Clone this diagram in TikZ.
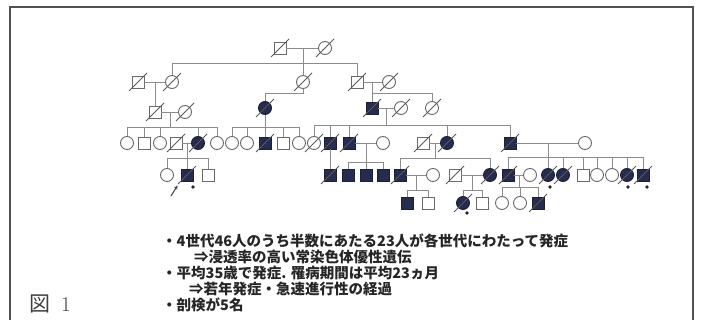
\documentclass[tikz,border=0pt]{standalone}
\usepackage{fontspec}
\newfontfamily\jp{Noto Sans CJK JP}
\usetikzlibrary{arrows.meta}
\definecolor{linec}{RGB}{140,140,140}
\definecolor{shapec}{RGB}{105,105,110}
\definecolor{navy}{RGB}{38,44,78}
\definecolor{framec}{RGB}{80,80,85}
\begin{document}
\begin{tikzpicture}[x=1pt,y=-1pt,
  ln/.style={draw=linec, line width=0.8pt},
  ma/.style={rectangle, draw=shapec, line width=0.9pt, minimum size=12pt, inner sep=0pt, fill=white},
  fe/.style={circle, draw=shapec, line width=0.9pt, minimum size=13pt, inner sep=0pt, fill=white},
  aff/.style={fill=navy, draw=navy!70!black},
  sl/.style={draw=black!65, line width=0.9pt},
  dt/.style={circle, fill=black!85, inner sep=0pt, minimum size=3.8pt},
  txt/.style={anchor=west, inner sep=0pt, font=\jp\bfseries\fontsize{14.5}{16}\selectfont, text=black!85}]
\useasboundingbox (0,0) rectangle (701,320);
\fill[white] (0,0) rectangle (701,320);
\draw[draw=framec, line width=1.3pt] (10,335) -- (10,7) -- (693,7) -- (693,335);

% generation I
\node[ma] (a1) at (280,48) {};
\node[fe] (a2) at (325,48) {};
% generation II
\node[ma] (b1) at (138,82) {};
\node[fe] (b2) at (172,82) {};
\node[fe] (b3) at (303,82) {};
\node[ma] (b4) at (357,82) {};
\node[fe] (b5) at (389,82) {};
% intermediate
\node[ma] (c1) at (155,112) {};
\node[fe] (c2) at (185,112) {};
\node[fe,aff] (c3) at (265,108) {};
\node[ma,aff] (c4) at (372,108) {};
\node[fe] (c5) at (401,108) {};
\node[fe] (c6) at (432,108) {};
% generation III
\node[fe] (d1) at (127,143) {};
\node[ma] (d2) at (144,143) {};
\node[fe] (d3) at (160,143) {};
\node[ma] (d4) at (176,143) {};
\node[fe,aff] (d5) at (198,143) {};
\node[fe] (d6) at (217,143) {};
\node[fe] (d7) at (232,143) {};
\node[fe] (d8) at (247,143) {};
\node[ma,aff] (d9) at (265,143) {};
\node[ma] (d10) at (283,143) {};
\node[fe] (d11) at (299,143) {};
\node[fe] (d12) at (314,143) {};
\node[ma,aff] (d13) at (330,143) {};
\node[ma,aff] (d14) at (349,143) {};
\node[fe] (d15) at (383,143) {};
\node[ma] (d16) at (423,143) {};
\node[fe,aff] (d17) at (447,143) {};
\node[ma,aff] (d18) at (510,143) {};
\node[fe] (d19) at (585,143) {};
% generation IV
\node[fe] (e1) at (167,175) {};
\node[ma,aff] (e2) at (187,175) {};
\node[ma] (e3) at (208,175) {};
\node[ma,aff] (e4) at (330,175) {};
\node[ma,aff] (e5) at (348,175) {};
\node[ma,aff] (e6) at (366,175) {};
\node[ma,aff] (e7) at (383,175) {};
\node[ma,aff] (e8) at (400,175) {};
\node[fe] (e9) at (433,175) {};
\node[ma] (e10) at (455,175) {};
\node[fe,aff] (e11) at (490,175) {};
\node[ma,aff] (e12) at (508,175) {};
\node[fe] (e13) at (530,175) {};
\node[fe,aff] (e14) at (548,175) {};
\node[fe,aff] (e15) at (563,175) {};
\node[ma] (e16) at (583,175) {};
\node[fe] (e17) at (597,175) {};
\node[fe] (e18) at (612,175) {};
\node[fe,aff] (e19) at (627,175) {};
\node[ma,aff] (e20) at (643,175) {};
% generation V
\node[ma,aff] (f1) at (407,203) {};
\node[ma] (f2) at (428,203) {};
\node[fe,aff] (f3) at (463,203) {};
\node[ma] (f4) at (482,203) {};
\node[fe] (f5) at (502,203) {};
\node[fe] (f6) at (520,203) {};
\node[ma,aff] (f7) at (538,203) {};

% connectors
\draw[ln] (a1.east) -- (a2.west);
\draw[ln] (303,48) -- (b3.north);
\draw[ln] (b2.north) -- (b2.north |- 0,63) -- (b4.north |- 0,63) -- (b4.north);

\draw[ln] (b1.east) -- (b2.west);
\draw[ln] (155,82) -- (c1.north);
\draw[ln] (b3.south) -- (b3.south |- 0,93) -- (c3.north |- 0,93) -- (c3.north);
\draw[ln] (b4.east) -- (b5.west);
\draw[ln] (372,82) -- (c4.north);
\draw[ln] (372,93) -- (c6.north |- 0,93) -- (c6.north);

\draw[ln] (c1.east) -- (c2.west);
\draw[ln] (170,112) -- (170,127);
\draw[ln] (d1.north) -- (d1.north |- 0,127) -- (d6.north |- 0,127) -- (d6.north);
\foreach \n in {d2,d3,d5} \draw[ln] (\n.north) -- (\n.north |- 0,127);

\draw[ln] (c3.south) -- (d9.north);
\draw[ln] (d7.north) -- (d7.north |- 0,127) -- (d11.north |- 0,127) -- (d11.north);
\foreach \n in {d8,d10} \draw[ln] (\n.north) -- (\n.north |- 0,127);

\draw[ln] (c4.east) -- (c5.west);
\draw[ln] (386,108) -- (386,125);
\draw[ln] (d12.north) -- (d12.north |- 0,125) -- (d18.north |- 0,125) -- (d18.north);
\foreach \n in {d13,d14,d17} \draw[ln] (\n.north) -- (\n.north |- 0,125);

\draw[ln] (d4.east) -- (d5.west);
\draw[ln] (187,143) -- (187,158);
\draw[ln] (e1.north) -- (e1.north |- 0,158) -- (e3.north |- 0,158) -- (e3.north);
\draw[ln] (e2.north) -- (e2.north |- 0,158);

\draw[ln] (d13.south) -- (e4.north);

\draw[ln] (d14.east) -- (d15.west);
\draw[ln] (366,143) -- (e6.north);
\draw[ln] (e5.north) -- (e5.north |- 0,162) -- (e7.north |- 0,162) -- (e7.north);

\draw[ln] (d16.east) -- (d17.west);
\draw[ln] (435,143) -- (435,158);
\draw[ln] (e8.north) -- (e8.north |- 0,158) -- (e11.north |- 0,158) -- (e11.north);

\draw[ln] (d18.east) -- (d19.west);
\draw[ln] (548,143) -- (e14.north);
\draw[ln] (e12.north) -- (e12.north |- 0,157) -- (e20.north |- 0,157) -- (e20.north);
\foreach \n in {e15,e16,e17,e18,e19} \draw[ln] (\n.north) -- (\n.north |- 0,157);

\draw[ln] (e8.east) -- (e9.west);
\draw[ln] (416,175) -- (416,190);
\draw[ln] (f1.north) -- (f1.north |- 0,190) -- (f2.north |- 0,190) -- (f2.north);

\draw[ln] (e10.east) -- (e11.west);
\draw[ln] (472,175) -- (472,190);
\draw[ln] (f3.north) -- (f3.north |- 0,190) -- (f4.north |- 0,190) -- (f4.north);

\draw[ln] (e12.east) -- (e13.west);
\draw[ln] (519,175) -- (519,187);
\draw[ln] (f5.north) -- (f5.north |- 0,187) -- (f7.north |- 0,187) -- (f7.north);
\draw[ln] (f6.north) -- (f6.north |- 0,187);

% deceased slashes
\foreach \n in {a1,a2,b1,b2,b3,b4,b5,c1,c2,c3,c4,c5,c6,d4,d5,d9,d12,d13,d14,d16,d17,d18,e2,e4,e8,e10,e11,e12,e14,e15,e19,e20,f3,f7}
  \draw[sl] ([shift={(-9,9)}]\n.center) -- ([shift={(9,-9)}]\n.center);

% markers
\node[dt] (m1) at (193,187) {};
\node[dt] (m2) at (550,187) {};
\node[dt] (m3) at (628,187) {};
\node[dt] (m4) at (647,187) {};
\node[dt] (m5) at (467,213) {};
\coordinate (pa) at (171,196);
\draw[black!75, line width=1pt, -{Stealth[length=4pt,width=3.5pt]}] (pa) -- ([shift={(-3,4)}]e2.south west);

% text
\node[txt] (t1) at (162,241) {・4世代46人のうち半数にあたる23人が各世代にわたって発症};
\node[txt] (t2) at (194,257) {⇒浸透率の高い常染色体優性遺伝};
\node[txt] (t3) at (162,273) {・平均35歳で発症. 罹病期間は平均23ヵ月};
\node[txt] (t4) at (189,289) {⇒若年発症・急速進行性の経過};
\node[txt] (t5) at (162,305) {・剖検が5名};

\node[anchor=west, inner sep=0pt, text=black!75] (fig) at (29,304) {{\jp\fontsize{21}{21}\selectfont 図}\hspace{11pt}{\fontsize{21}{21}\selectfont 1}};
\end{tikzpicture}
\end{document}
